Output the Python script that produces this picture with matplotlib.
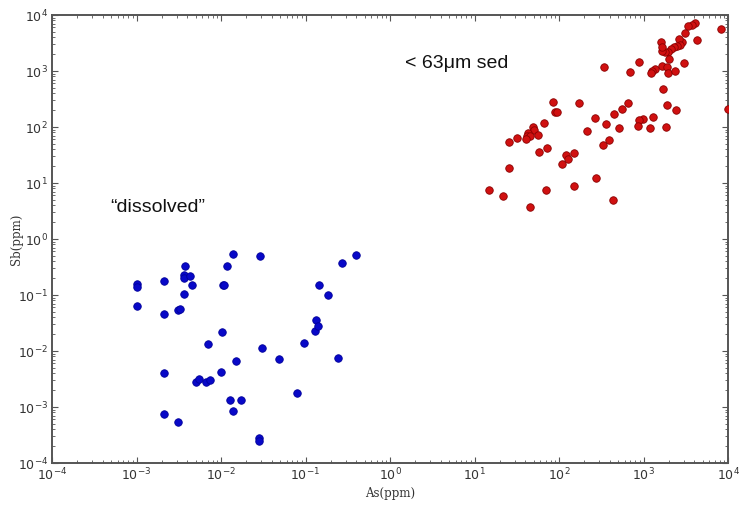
import matplotlib
matplotlib.use("Agg")
import matplotlib.pyplot as plt
from matplotlib.ticker import LogLocator, LogFormatterSciNotation, NullFormatter

# "dissolved" samples (blue)
dissolved_as = [0.001, 0.001, 0.001, 0.0021, 0.0021, 0.0021, 0.0021, 0.0031, 0.0031, 0.0033,
                0.0036, 0.0037, 0.0036, 0.0036, 0.0043, 0.0045, 0.0050, 0.0055, 0.0066, 0.0074,
                0.0070, 0.0104, 0.0100, 0.0105, 0.0107, 0.0117, 0.014, 0.0129, 0.0173, 0.014,
                0.0152, 0.0287, 0.0305, 0.0284, 0.0284, 0.0485, 0.0785, 0.095, 0.129, 0.134,
                0.139, 0.146, 0.184, 0.244, 0.269, 0.394]
dissolved_sb = [0.16, 0.14, 0.064, 0.18, 0.046, 0.0041, 0.00074, 0.00054, 0.055, 0.056,
                0.105, 0.327, 0.223, 0.205, 0.217, 0.152, 0.00275, 0.00315, 0.00275, 0.00308,
                0.0132, 0.0216, 0.0042, 0.152, 0.152, 0.327, 0.548, 0.00136, 0.00136, 0.00085,
                0.0065, 0.505, 0.0112, 0.000275, 0.000249, 0.00706, 0.00178, 0.014, 0.0225, 0.0353,
                0.028, 0.148, 0.0998, 0.00745, 0.374, 0.513]

# < 63 um sediment samples (red)
sed_as = [8200, 4070, 3720, 3390, 3070, 4260, 2830, 2650, 2700, 2470,
          2300, 2130, 1960, 1800, 1660, 1620, 1670, 2000, 3040, 1660,
          1910, 1930, 2380, 1370, 1250, 1220, 885, 698, 344, 1710,
          1900, 2430, 9910, 656, 561, 444, 1290, 979, 885, 861,
          1190, 1850, 363, 517, 391, 334, 84, 173, 90, 95,
          66, 49, 51, 43, 41.5, 45, 40.6, 57, 31.6, 25.8,
          58.5, 72, 120, 129, 151, 108, 213, 264, 25.8, 274,
          152, 70, 15, 21.6, 45.7, 436]
sed_sb = [5620, 7110, 6710, 6280, 4830, 3620, 3250, 3680, 2910, 2790,
          2650, 2500, 2210, 2210, 2300, 3250, 2720, 1660, 1370, 1240,
          1190, 910, 990, 1100, 1000, 910, 1450, 960, 1160, 471,
          244, 201, 207, 268, 207, 171, 153, 137, 133, 105,
          95, 100, 112, 95, 59, 48, 283, 272, 183, 183,
          119, 101, 88, 77, 69, 69, 62, 71, 62.5, 53,
          36, 41.7, 32, 27, 34, 21.6, 86, 142, 18.3, 12.4,
          9.0, 7.4, 7.5, 5.8, 3.7, 5.0]

x_label = "As(ppm)"
y_label = "Sb(ppm)"
label_sed = "< 63\u03bcm sed"
label_dis = "\u201cdissolved\u201d"

plt.rcParams['mathtext.fontset'] = 'dejavuserif'
fig = plt.figure(figsize=(7.4, 5.12), dpi=100)
ax = fig.add_axes([0.0703, 0.0957, 0.9135, 0.875])

ax.plot(dissolved_as, dissolved_sb, 'o', color='#0808c8', markeredgecolor='#00009a',
        markeredgewidth=0.6, markersize=5.4, clip_on=False, zorder=3)
ax.plot(sed_as, sed_sb, 'o', color='#d01010', markeredgecolor='#8a0000',
        markeredgewidth=0.6, markersize=5.4, clip_on=True, zorder=3)

ax.set_xscale('log')
ax.set_yscale('log')
ax.set_xlim(1e-4, 1e4)
ax.set_ylim(1e-4, 1e4)

for axis in (ax.xaxis, ax.yaxis):
    axis.set_major_locator(LogLocator(base=10, numticks=20))
    axis.set_minor_locator(LogLocator(base=10, subs=range(2, 10), numticks=20))
    axis.set_major_formatter(LogFormatterSciNotation())
    axis.set_minor_formatter(NullFormatter())

ax.tick_params(which='both', direction='in', top=True, right=True, colors='#555555',
               labelcolor='#333333', labelsize=9)
ax.tick_params(which='major', length=4, width=0.8, pad=3)
ax.tick_params(which='minor', length=2, width=0.6)
for s in ax.spines.values():
    s.set_color('#555555')
    s.set_linewidth(1.4)

ax.set_xlabel(x_label, family='DejaVu Serif', fontsize=8.5, color='#333333', labelpad=2)
ax.set_ylabel(y_label, family='DejaVu Serif', fontsize=8.5, color='#333333')
ax.yaxis.set_label_coords(-0.043, 0.5)

fig.text(405 / 740, 1 - 63 / 512, label_sed, family='Liberation Sans', fontsize=14,
         va='center', ha='left', color='#111111')
fig.text(110 / 740, 1 - 208 / 512, label_dis, family='Liberation Sans', fontsize=14,
         va='center', ha='left', color='#111111')

fig.savefig('out.png', dpi=100)
